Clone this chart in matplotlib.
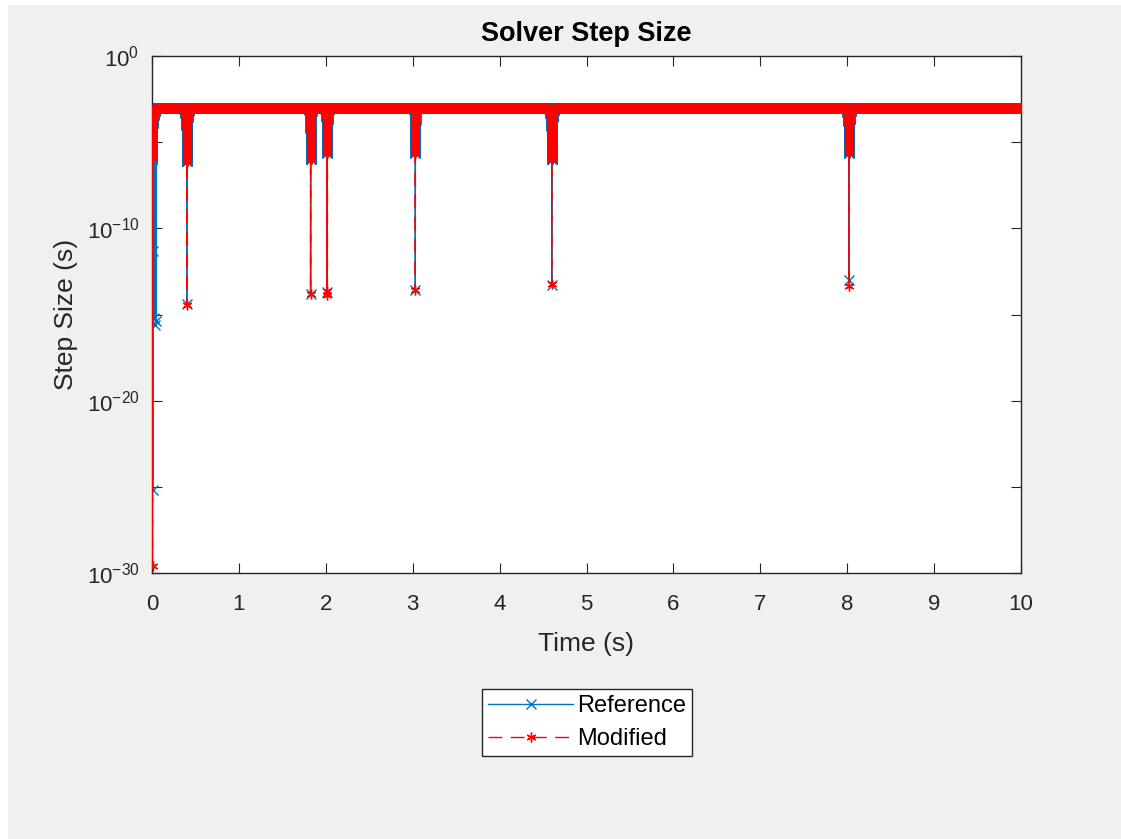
import numpy as np
import matplotlib
matplotlib.use('Agg')
import matplotlib.pyplot as plt
from matplotlib.patches import Rectangle
from matplotlib.ticker import NullFormatter, NullLocator

plt.rcParams['font.family'] = ['Liberation Sans', 'DejaVu Sans']
plt.rcParams['mathtext.fontset'] = 'custom'
plt.rcParams['mathtext.rm'] = 'Liberation Sans'
plt.rcParams['mathtext.it'] = 'Liberation Sans:italic'
plt.rcParams['mathtext.bf'] = 'Liberation Sans:bold'
plt.rcParams['mathtext.default'] = 'regular'

# ---------------- data ----------------
T_END = 10.0
MAX_STEP_LOG = -3.0                      # steady step size, log10(s)

# centre of each event cluster (s), cluster half-width (s) and floor log10(step)
EVENT_TIMES = [0.0, 0.40, 1.825, 2.015, 3.03, 4.60, 8.02]
CLUSTER_HALF = [0.045, 0.03, 0.017, 0.022, 0.012, 0.03, 0.03]
REF_FLOOR_LOG = [-6.0, -6.1, -6.0, -5.6, -5.6, -6.0, -5.6]
MOD_FLOOR_LOG = [-5.9, -6.1, -6.0, -5.6, -5.6, -6.0, -5.6]

# isolated very small steps (time, log10 step)
REF_DEEP_T = [0.008, 0.015, 0.028, 0.040, 0.050, 0.40, 1.825, 2.015, 3.03, 4.60, 8.02]
REF_DEEP_LOG = [-25.2, -11.3, -15.2, -15.6, -15.4, -14.4, -13.8, -13.7, -13.6, -13.3, -13.0]
MOD_DEEP_T = [0.006, 0.40, 1.825, 2.012, 2.018, 3.03, 4.60, 8.02]
MOD_DEEP_LOG = [-29.6, -14.45, -13.8, -13.65, -13.85, -13.6, -13.25, -13.35]

SERIES_NAMES = ['Reference', 'Modified']
X_TICKS = list(range(0, 11))
Y_MAJOR = [1e-30, 1e-20, 1e-10, 1e0]
Y_MINOR = [1e-25, 1e-15, 1e-5]
Y_LABELS = [r'$10^{-30}$', r'$10^{-20}$', r'$10^{-10}$', r'$10^{0}$']


def build_series(floor_logs, deep_t, deep_log):
    max_step = 10.0 ** MAX_STEP_LOG
    t_st = np.arange(0.0, T_END + max_step / 2, max_step)
    keep = np.ones(t_st.shape, bool)
    ts, ss = [], []
    for ev, half, fl in zip(EVENT_TIMES, CLUSTER_HALF, floor_logs):
        keep &= ~((t_st >= ev - half) & (t_st <= ev + half))
        ratio = np.log(10 ** (MAX_STEP_LOG - fl))
        n = max(int(half * ratio / max_step), 5)
        up = np.geomspace(10 ** fl, max_step, n)
        t_up = ev + np.cumsum(up) - up[0]
        down = up[::-1]
        t_down = ev - (np.cumsum(up) - up[0])[::-1]
        t_c = np.concatenate([t_down, t_up])
        s_c = np.concatenate([down, up])
        m = t_c >= 0
        ts.append(t_c[m]); ss.append(s_c[m])
    ts.append(t_st[keep]); ss.append(np.full(keep.sum(), max_step))
    ts.append(np.asarray(deep_t)); ss.append(10.0 ** np.asarray(deep_log))
    t = np.concatenate(ts); s = np.concatenate(ss)
    o = np.argsort(t, kind='stable')
    return t[o], s[o]


t_ref, s_ref = build_series(REF_FLOOR_LOG, REF_DEEP_T, REF_DEEP_LOG)
t_mod, s_mod = build_series(MOD_FLOOR_LOG, MOD_DEEP_T, MOD_DEEP_LOG)

# ---------------- figure ----------------
W, H = 1121, 839
fig = plt.figure(figsize=(W / 100, H / 100), dpi=100, facecolor='white')
fig.patches.append(Rectangle((8 / W, 0), 1 - 8 / W, 1 - 5 / H, transform=fig.transFigure,
                             facecolor='#F0F0F0', edgecolor='none', zorder=-10))

ax = fig.add_axes([152 / W, 1 - 573 / H, (1021 - 152) / W, (573 - 56) / H])
ax.set_facecolor('white')

blue = '#0072BD'
red = '#FF0000'
ax.plot(t_ref, s_ref, color=blue, lw=1.0, marker='x', ms=7, mew=1.0,
        label=SERIES_NAMES[0], zorder=2)
ax.plot(t_mod, s_mod, color=red, lw=1.0, ls=(0, (10, 6)), marker=(6, 2, 0), ms=7, mew=1.0,
        label=SERIES_NAMES[1], zorder=3)

ax.set_yscale('log')
ax.set_xlim(0, 10)
ax.set_ylim(1e-30, 1e0)
ax.set_xticks(X_TICKS)
ax.set_xticklabels([str(v) for v in X_TICKS])
ax.set_yticks(Y_MAJOR)
ax.set_yticklabels(Y_LABELS)
ax.set_yticks(Y_MINOR, minor=True)
ax.yaxis.set_minor_formatter(NullFormatter())
ax.xaxis.set_minor_locator(NullLocator())

dark = '#262626'
for sp in ax.spines.values():
    sp.set_color(dark)
    sp.set_linewidth(1.0)
ax.tick_params(axis='both', which='both', direction='in', top=True, right=True,
               colors=dark, labelcolor=dark, width=0.8)
ax.tick_params(axis='both', which='major', length=7, labelsize=16)
ax.tick_params(axis='y', which='minor', length=7)
ax.tick_params(axis='x', which='major', pad=15)
ax.tick_params(axis='y', which='major', pad=9)

ax.set_xlabel('Time (s)', fontsize=19, color=dark, labelpad=12)
ax.set_ylabel('Step Size (s)', fontsize=19, color=dark, labelpad=6)
ax.set_title('Solver Step Size', fontsize=19.5, fontweight='bold', color='black', pad=11)

leg = fig.legend(loc='center', bbox_to_anchor=(587 / W, 1 - 722.5 / H), fontsize=17,
                 frameon=True, fancybox=False, edgecolor=dark, framealpha=1,
                 handlelength=3.6, numpoints=1, borderpad=0.25, labelspacing=0.45,
                 handletextpad=0.15, borderaxespad=0)
leg.get_frame().set_linewidth(1.0)

fig.savefig('out.png', dpi=100, facecolor=fig.get_facecolor())
